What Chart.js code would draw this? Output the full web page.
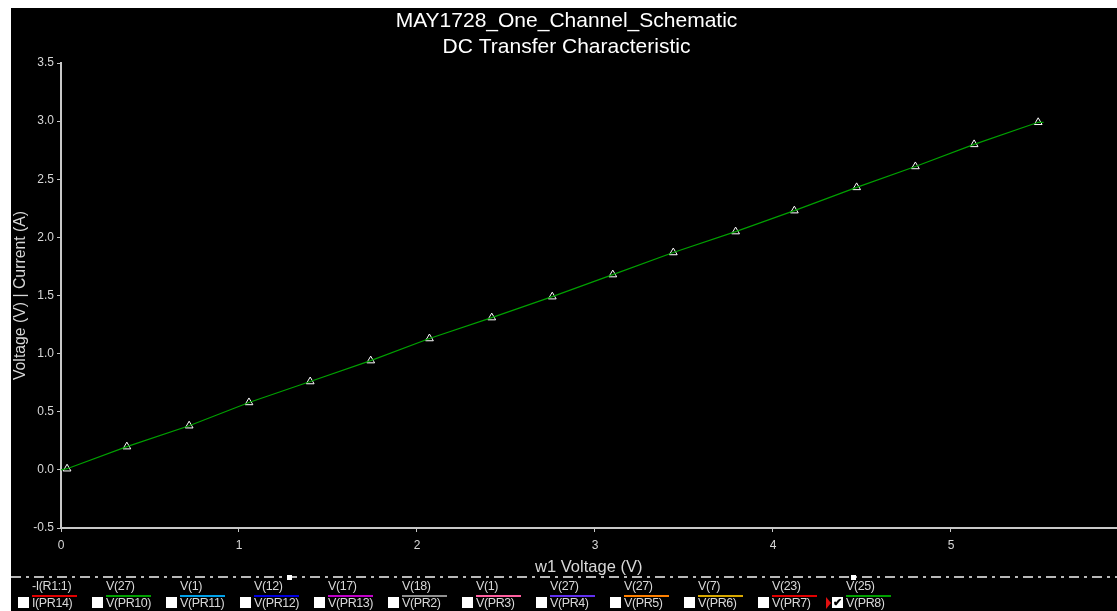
<!DOCTYPE html>
<html>
<head>
<meta charset="utf-8">
<script src="https://cdn.jsdelivr.net/npm/chart.js@4"></script>
<style>
    html, body { margin: 0; padding: 0; background: #ffffff; }
    body { width: 1117px; height: 611px; position: relative; overflow: hidden; font-family: "Liberation Sans", Arial, sans-serif; }
    #plot { position: absolute; left: 11px; top: 8px; background: #000000; }
    #legend { position: absolute; left: 11px; top: 580px; width: 1106px; height: 31px; background: #000000; }
    .item { position: absolute; top: 0; width: 74px; height: 31px; }
    .item .top { position: absolute; left: 14px; top: -1px; font-size: 12.5px; color: #d8d8d8; white-space: nowrap; letter-spacing: -0.4px; }
    .item .swatch { position: absolute; left: 14px; top: 15px; width: 45px; height: 2px; }
    .item .box { position: absolute; left: 0; top: 17px; width: 11px; height: 11px; background: #ffffff; color: #000; font-size: 11px; line-height: 11px; text-align: center; font-weight: bold; }
    .item .bottom { position: absolute; left: 14px; top: 16px; font-size: 12.5px; color: #d8d8d8; white-space: nowrap; letter-spacing: -0.4px; }
    .item .pick { position: absolute; left: -6px; top: 17px; width: 0; height: 0; border-top: 6px solid transparent; border-bottom: 6px solid transparent; border-left: 5px solid #e01010; }
    .marker { position: absolute; width: 5px; height: 5px; background: #ffffff; }
</style>
</head>
<body>
<canvas id="plot" width="1111" height="572"></canvas>
<div id="legend"></div>
<div class="marker" style="left:287px; top:575px;"></div>
<div class="marker" style="left:851px; top:575px;"></div>

<script>
// sweep values (x) and output voltage (y) read at the triangle markers
const sweepV = [0.034, 0.37, 0.72, 1.056, 1.40, 1.74, 2.07, 2.42, 2.76, 3.10, 3.44, 3.79, 4.12, 4.47, 4.80, 5.13, 5.49];
const outV = [0.01, 0.20, 0.38, 0.58, 0.76, 0.94, 1.13, 1.31, 1.49, 1.68, 1.87, 2.05, 2.23, 2.43, 2.61, 2.80, 2.99];

// the trace itself runs a little past the first/last marker
const traceStart = [0, 0];
const traceEnd = [5.52, 2.99];

const xTicks = [0, 1, 2, 3, 4, 5];
const yTicks = [-0.5, 0.0, 0.5, 1.0, 1.5, 2.0, 2.5, 3.0, 3.5];

// probe legend along the bottom
const probeNames = ["-I(R1:1)", "V(27)", "V(1)", "V(12)", "V(17)", "V(18)", "V(1)", "V(27)", "V(27)", "V(7)", "V(23)", "V(25)"];
const probeIds = ["I(PR14)", "V(PR10)", "V(PR11)", "V(PR12)", "V(PR13)", "V(PR2)", "V(PR3)", "V(PR4)", "V(PR5)", "V(PR6)", "V(PR7)", "V(PR8)"];
const probeColors = ["#e00000", "#00a000", "#00a0e8", "#0000e0", "#c000c8", "#909090", "#ff60a0", "#6030f0", "#ff8000", "#d8a800", "#e00000", "#00a000"];
const probeChecked = [false, false, false, false, false, false, false, false, false, false, false, true];

const textColor = "#d8d8d8";
const axisColor = "#c8c8c8";
const fontFamily = "'Liberation Sans', Arial, sans-serif";

const tracePoints = [{ x: traceStart[0], y: traceStart[1] }]
    .concat(sweepV.map((v, i) => ({ x: v, y: outV[i] })))
    .concat([{ x: traceEnd[0], y: traceEnd[1] }]);
const markerPoints = sweepV.map((v, i) => ({ x: v, y: outV[i] }));

const dashDotLine = {
    id: 'dashDotLine',
    afterDraw(chart) {
        const { ctx } = chart;
        ctx.save();
        ctx.strokeStyle = '#b8b8b8';
        ctx.lineWidth = 2;
        ctx.setLineDash([10, 5, 3, 5]);
        ctx.beginPath();
        ctx.moveTo(0, 569);
        ctx.lineTo(chart.width, 569);
        ctx.stroke();
        ctx.restore();
    }
};

new Chart(document.getElementById('plot'), {
    type: 'scatter',
    data: {
        datasets: [
            {
                label: 'V(25)',
                data: tracePoints,
                showLine: true,
                borderColor: '#00a000',
                borderWidth: 1.2,
                pointRadius: 0,
                tension: 0
            },
            {
                label: 'markers',
                data: markerPoints,
                showLine: false,
                pointStyle: 'triangle',
                pointRadius: 4.5,
                borderColor: '#ffffff',
                borderWidth: 1,
                backgroundColor: 'rgba(0,0,0,0)'
            }
        ]
    },
    options: {
        responsive: false,
        animation: false,
        layout: { padding: 0 },
        plugins: {
            legend: { display: false },
            tooltip: { enabled: false },
            title: {
                display: true,
                text: ['MAY1728_One_Channel_Schematic', 'DC Transfer Characteristic'],
                color: '#ffffff',
                font: { family: fontFamily, size: 21, weight: 'normal', lineHeight: '26px' },
                padding: { top: 0, bottom: 3 }
            }
        },
        scales: {
            x: {
                type: 'linear',
                min: 0,
                max: 5.93,
                afterBuildTicks(scale) {
                    scale.ticks = xTicks.map(v => ({ value: v }));
                },
                afterFit(scale) { scale.height = 52; },
                ticks: {
                    color: textColor,
                    font: { family: fontFamily, size: 12 },
                    padding: 6,
                    maxRotation: 0,
                    callback: v => String(v)
                },
                grid: { drawOnChartArea: false, drawTicks: true, tickLength: 4, color: axisColor },
                border: { color: axisColor, width: 2 },
                title: {
                    display: true,
                    text: 'w1 Voltage (V)',
                    color: textColor,
                    font: { family: fontFamily, size: 16.5 },
                    padding: { top: 0, bottom: 3 }
                }
            },
            y: {
                type: 'linear',
                min: -0.5,
                max: 3.5,
                afterBuildTicks(scale) {
                    scale.ticks = yTicks.map(v => ({ value: v }));
                },
                afterFit(scale) { scale.width = 50; },
                ticks: {
                    color: textColor,
                    font: { family: fontFamily, size: 12 },
                    padding: 3,
                    callback: v => Number(v).toFixed(1)
                },
                grid: { drawOnChartArea: false, drawTicks: true, tickLength: 4, color: axisColor },
                border: { color: axisColor, width: 2 },
                title: {
                    display: true,
                    text: 'Voltage (V) | Current (A)',
                    color: textColor,
                    font: { family: fontFamily, size: 15.8 },
                    padding: 0
                }
            }
        }
    },
    plugins: [dashDotLine]
});

// legend row
const legend = document.getElementById('legend');
probeNames.forEach((name, i) => {
    const item = document.createElement('div');
    item.className = 'item';
    item.style.left = (7 + 74 * i) + 'px';
    let html = '<div class="top">' + name + '</div>' +
        '<div class="swatch" style="background:' + probeColors[i] + '"></div>' +
        '<div class="box">' + (probeChecked[i] ? '✔' : '') + '</div>' +
        '<div class="bottom">' + probeIds[i] + '</div>';
    if (probeChecked[i]) html = '<div class="pick"></div>' + html;
    item.innerHTML = html;
    legend.appendChild(item);
});
</script>
</body>
</html>
